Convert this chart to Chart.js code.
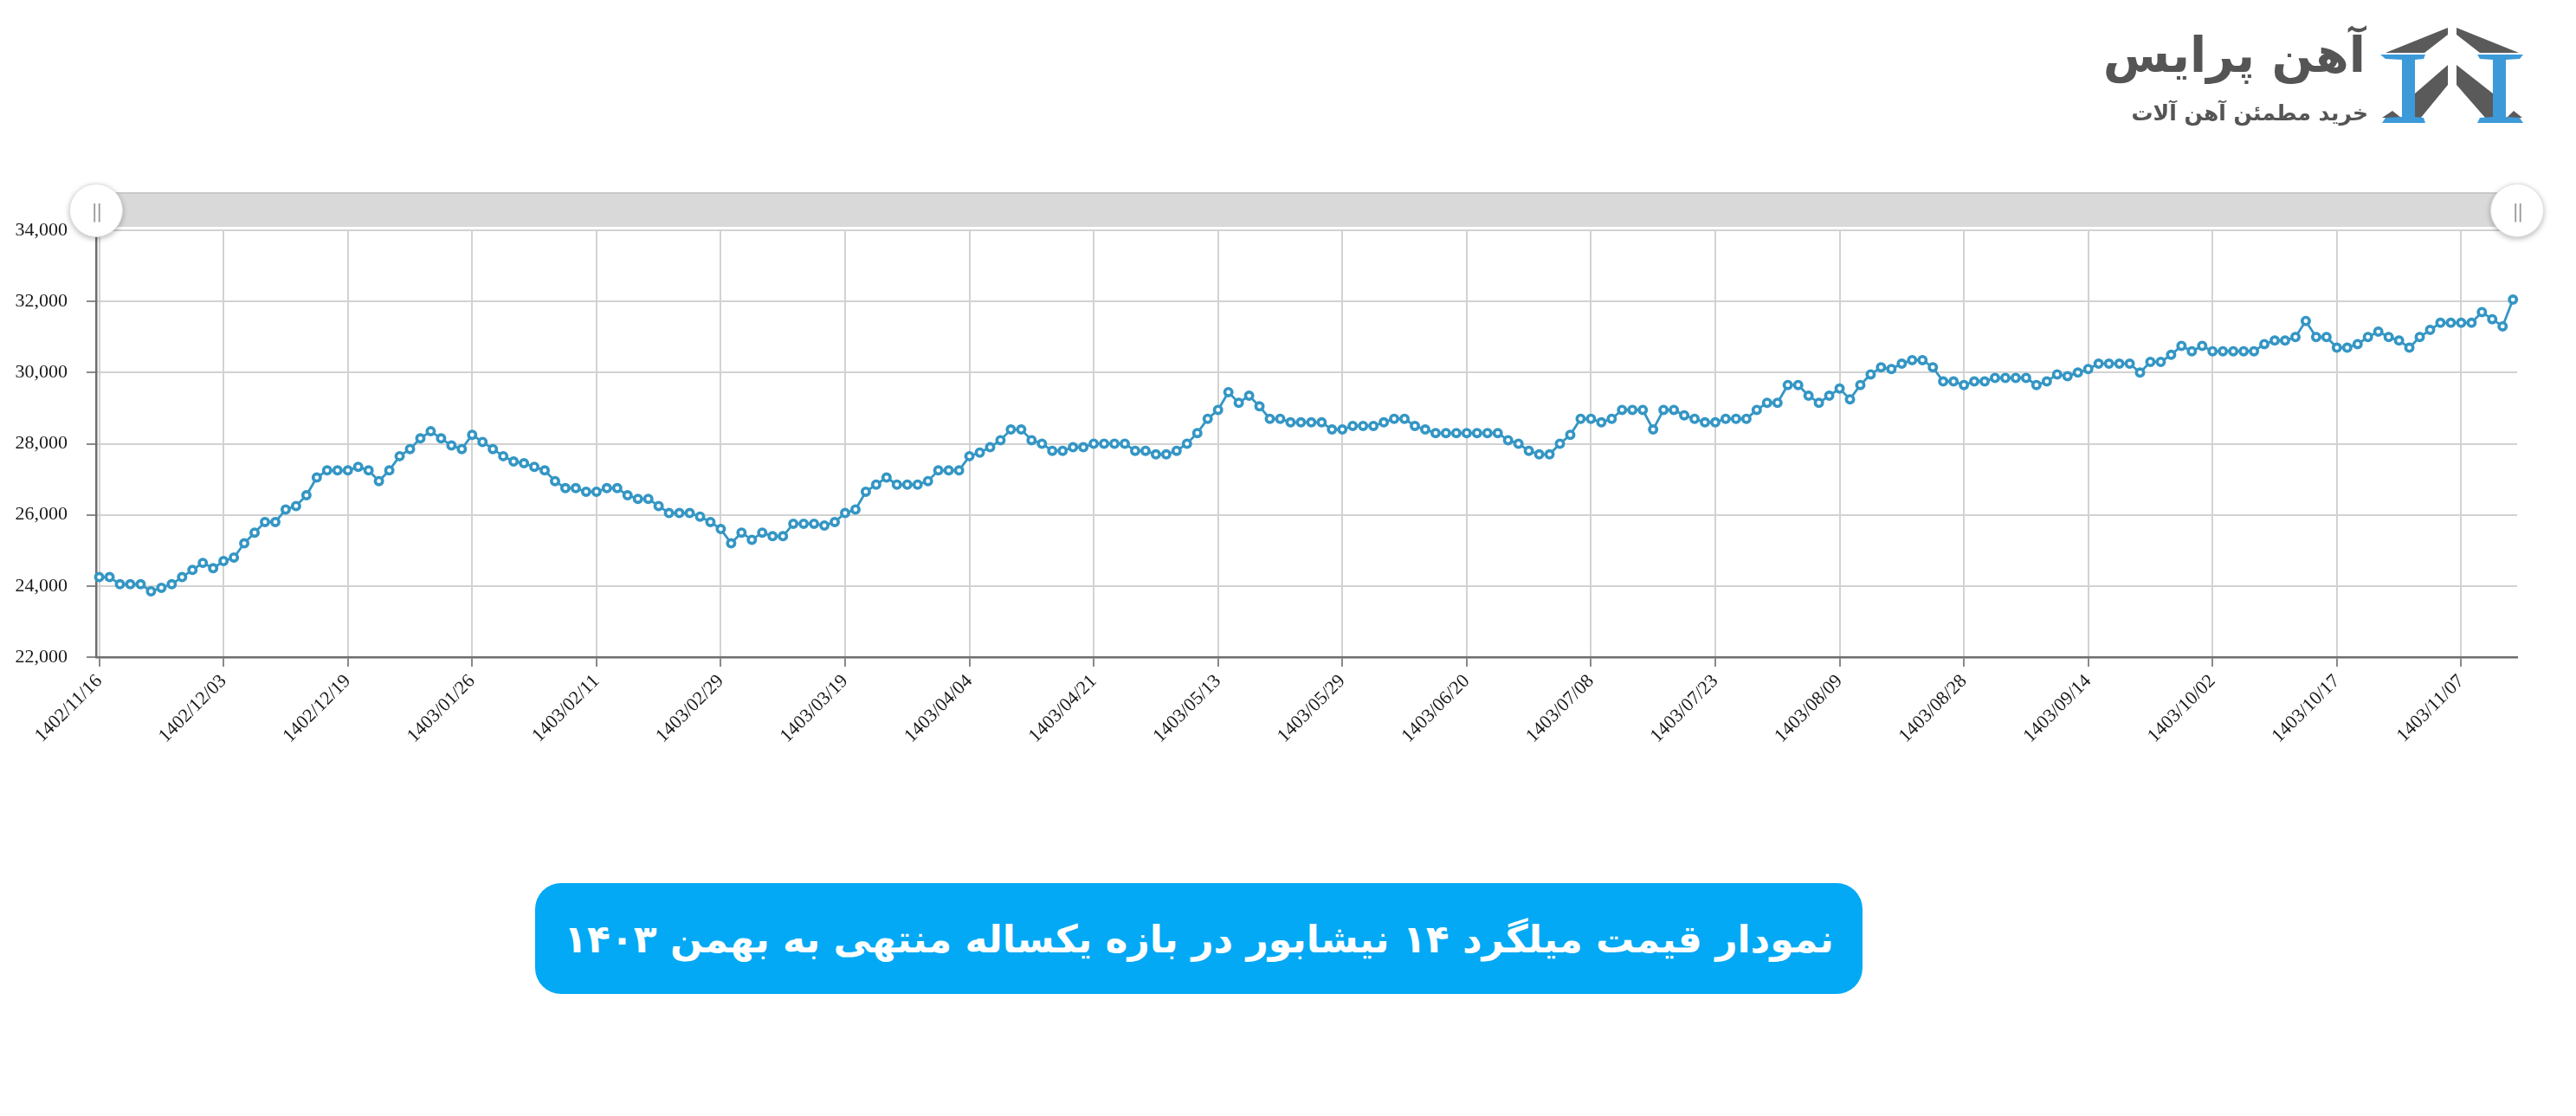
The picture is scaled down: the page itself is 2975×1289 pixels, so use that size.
<!DOCTYPE html>
<html lang="fa">
<head>
<meta charset="utf-8">
<script src="https://cdn.jsdelivr.net/npm/chart.js@4.4.1/dist/chart.umd.min.js"></script>
<style>
  html, body { margin:0; padding:0; background:#ffffff; }
  body { width:2975px; height:1289px; position:relative; overflow:hidden; }
  #chart { position:absolute; left:0; top:0; }
  #scrollbar { position:absolute; left:111px; top:222px; width:2796px; height:40px;
    background:#d9d9d9; border-top:2px solid #c9c9c9; box-sizing:border-box; }
  .handle { position:absolute; top:212px; width:62px; height:62px; border-radius:50%;
    background:#ffffff; box-shadow:0 2px 6px rgba(0,0,0,0.28); border:1px solid #e0e0e0;
    box-sizing:border-box; color:#9a9a9a; font:22px "DejaVu Sans", sans-serif;
    display:flex; align-items:center; justify-content:center; letter-spacing:-2px; }
  #logo { position:absolute; left:2480px; top:28px; width:440px; height:125px; }
  #brand { position:absolute; right:188px; top:8px; font:bold 56px "DejaVu Sans", sans-serif;
    color:#555555; direction:rtl; white-space:nowrap; line-height:1; }
  #tagline { position:absolute; right:185px; top:90px; font:bold 25px "DejaVu Sans", sans-serif;
    color:#555555; direction:rtl; white-space:nowrap; line-height:1; }
  #icon { position:absolute; right:0; top:0; }
  #titlebox { position:absolute; left:618px; top:1020px; width:1533px; height:128px;
    background:#03a9f4; border-radius:30px; display:flex; align-items:center; justify-content:center;
    color:#ffffff; font:bold 44px "DejaVu Sans", sans-serif; direction:rtl; white-space:nowrap; }
</style>
</head>
<body>
<canvas id="chart" width="2975" height="1289"></canvas>
<div id="scrollbar"></div>
<div class="handle" style="left:80px;">||</div>
<div class="handle" style="left:2876px;">||</div>

<div id="logo">
  <div id="brand">آهن پرایس</div>
  <div id="tagline">خرید مطمئن آهن آلات</div>
  <svg id="icon" width="175" height="120" viewBox="0 0 175 120">
    <g fill="#5a5a5a">
      <polygon points="10,33 82,4 82,12 55,33"/>
      <polygon points="92,4 164,33 119,33 92,12"/>
      <polygon points="82,47 82,70 50,109 44,109 44,80"/>
      <polygon points="92,47 134,80 134,109 126,109 92,70"/>
      <polygon points="6,108 18,100 28,108"/>
      <polygon points="150,108 158,100 168,108"/>
    </g>
    <g fill="#3d9ad8">
      <polygon points="4,35 56,35 54,40 44,41 44,107 54,108 56,114 6,114 10,108 29,107 29,41 10,40"/>
      <polygon points="116,35 169,35 165,40 149,41 149,107 165,108 169,114 116,114 119,108 134,107 134,41 119,40"/>
    </g>
  </svg>
</div>

<div id="titlebox">نمودار قیمت میلگرد ۱۴ نیشابور در بازه یکساله منتهی به بهمن ۱۴۰۳</div>

<script>
// Tick labels (one every 12 trading days)
const tickLabels = [
  '1402/11/16','1402/12/03','1402/12/19','1403/01/26','1403/02/11',
  '1403/02/29','1403/03/19','1403/04/04','1403/04/21','1403/05/13',
  '1403/05/29','1403/06/20','1403/07/08','1403/07/23','1403/08/09',
  '1403/08/28','1403/09/14','1403/10/02','1403/10/17','1403/11/07'
];
const tickEvery = 12;

// Price series (Toman/kg), one value per trading day
const prices = [
  24250,24250,24050,24050,24050,23850,23950,24050,24250,24450,
  24650,24500,24700,24800,25200,25500,25800,25800,26150,26250,
  26550,27050,27250,27250,27250,27350,27250,26950,27250,27650,
  27850,28150,28350,28150,27950,27850,28250,28050,27850,27650,
  27500,27450,27350,27250,26950,26750,26750,26650,26650,26750,
  26750,26550,26450,26450,26250,26050,26050,26050,25950,25800,
  25600,25200,25500,25300,25500,25400,25400,25750,25750,25750,
  25700,25800,26050,26150,26650,26850,27050,26850,26850,26850,
  26950,27250,27250,27250,27650,27750,27900,28100,28400,28400,
  28100,28000,27800,27800,27900,27900,28000,28000,28000,28000,
  27800,27800,27700,27700,27800,28000,28300,28700,28950,29450,
  29150,29350,29050,28700,28700,28600,28600,28600,28600,28400,
  28400,28500,28500,28500,28600,28700,28700,28500,28400,28300,
  28300,28300,28300,28300,28300,28300,28100,28000,27800,27700,
  27700,28000,28250,28700,28700,28600,28700,28950,28950,28950,
  28400,28950,28950,28800,28700,28600,28600,28700,28700,28700,
  28950,29150,29150,29650,29650,29350,29150,29350,29550,29250,
  29650,29950,30150,30100,30250,30350,30350,30150,29750,29750,
  29650,29750,29750,29850,29850,29850,29850,29650,29750,29950,
  29900,30000,30100,30250,30250,30250,30250,30000,30300,30300,
  30500,30750,30600,30750,30600,30600,30600,30600,30600,30800,
  30900,30900,31000,31450,31000,31000,30700,30700,30800,31000,
  31150,31000,30900,30700,31000,31200,31400,31400,31400,31400,
  31700,31500,31300,32050
];

const yMin = 22000, yMax = 34000, yStep = 2000;

const points = prices.map((v, i) => ({ x: i, y: v }));
const lineColor = '#3496c4';

new Chart(document.getElementById('chart'), {
  type: 'line',
  data: {
    datasets: [{
      data: points,
      borderColor: lineColor,
      borderWidth: 2.8,
      pointRadius: 4.2,
      pointBorderWidth: 3.6,
      pointBackgroundColor: '#ffffff',
      pointBorderColor: lineColor,
      tension: 0,
      clip: false
    }]
  },
  options: {
    responsive: false,
    devicePixelRatio: 1,
    animation: false,
    layout: { padding: { left: 0, right: 68, top: 266, bottom: 400 } },
    plugins: { legend: { display: false }, tooltip: { enabled: false } },
    scales: {
      x: {
        type: 'linear',
        min: -0.3,
        max: 233.4,
        afterBuildTicks: (scale) => {
          scale.ticks = tickLabels.map((_, i) => ({ value: i * tickEvery }));
        },
        afterFit: (scale) => { scale.height = 130; },
        ticks: {
          autoSkip: false,
          maxRotation: 45,
          minRotation: 45,
          padding: 4,
          color: '#1a1a1a',
          font: { family: '"Liberation Serif", "DejaVu Serif", serif', size: 22 },
          callback: (value) => tickLabels[Math.round(value / tickEvery)]
        },
        grid: { color: '#d2d2d2', lineWidth: 2, tickLength: 11, tickColor: '#8a8a8a' },
        border: { display: true, color: '#6e6e6e', width: 2.5 }
      },
      y: {
        min: yMin,
        max: yMax,
        afterFit: (scale) => { scale.width = 111; },
        ticks: {
          stepSize: yStep,
          padding: 22,
          color: '#1a1a1a',
          font: { family: '"Liberation Serif", "DejaVu Serif", serif', size: 22 },
          callback: (v) => v.toLocaleString('en-US')
        },
        grid: { color: '#d2d2d2', lineWidth: 2, tickLength: 11, tickColor: '#8a8a8a' },
        border: { display: true, color: '#6e6e6e', width: 2.5 }
      }
    }
  }
});
</script>
</body>
</html>
